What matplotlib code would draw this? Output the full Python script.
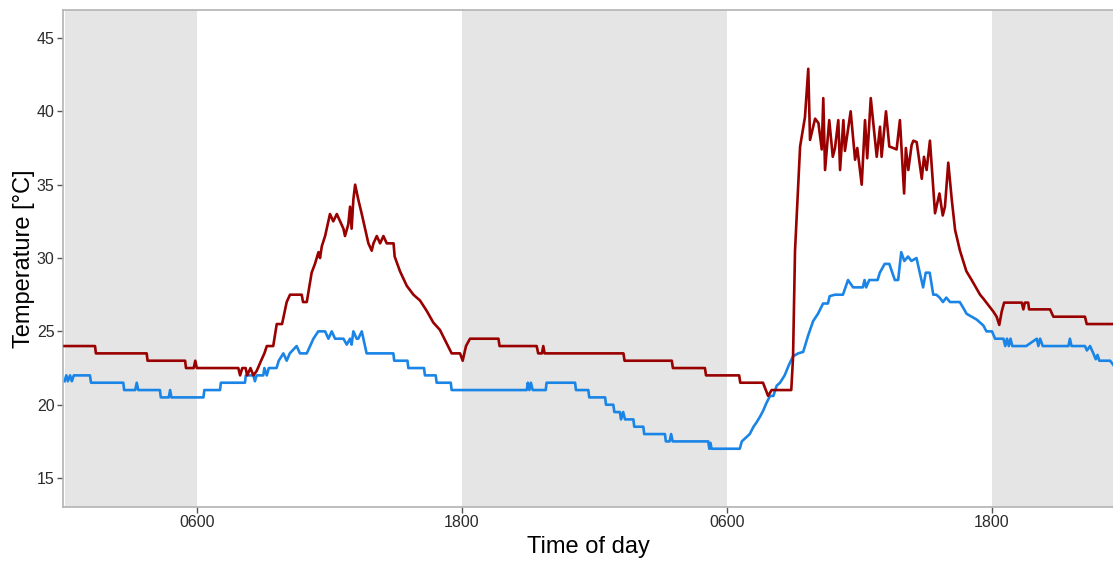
import matplotlib.pyplot as plt

plt.rcParams['font.family'] = ['Liberation Sans', 'DejaVu Sans']

# hours since midnight of day 1, temperature in deg C
red_t = [0.0, 1.38, 1.42, 3.72, 3.76, 5.46, 5.50, 5.85, 5.92, 5.99, 7.87, 7.95, 8.05, 8.2, 8.27,
         8.42, 8.55, 8.70, 8.9, 9.05, 9.16, 9.45, 9.61, 9.85, 10.06, 10.21, 10.74, 10.8, 10.97,
         11.19, 11.34, 11.5, 11.57, 11.65, 11.8, 12.02, 12.17, 12.33, 12.48, 12.63, 12.7, 12.85,
         12.93, 13.0, 13.08, 13.16, 13.3, 13.46, 13.61, 13.76, 13.91, 13.99, 14.14, 14.29, 14.44,
         14.59, 14.9, 14.95, 15.19, 15.5, 15.8, 16.1, 16.4, 16.7, 17.0, 17.3, 17.53, 17.91, 18.03,
         18.18, 18.36, 19.65, 19.7, 21.38, 21.45, 21.62, 21.68, 21.74, 25.31, 25.36, 27.5, 27.55,
         29.0, 29.05, 30.55, 30.6, 31.63, 31.86, 32.02, 32.91, 32.99, 33.08, 33.31, 33.53, 33.68,
         33.76, 33.99, 34.14, 34.29, 34.36, 34.44, 34.63, 34.79, 34.89, 35.04, 35.12, 35.27, 35.34,
         35.6, 35.8, 35.9, 36.1, 36.25, 36.35, 36.51, 36.78, 36.93, 37.0, 37.2, 37.35, 37.53, 37.68,
         37.83, 38.02, 38.1, 38.21, 38.36, 38.44, 38.59, 38.82, 38.92, 39.04, 39.19, 39.42, 39.62,
         39.77, 39.87, 40.02, 40.18, 40.33, 40.55, 40.84, 41.08, 41.46, 41.6, 41.83, 42.06, 42.21,
         42.33, 42.44, 42.55, 43.35, 43.42, 43.49, 43.64, 43.68, 44.63, 44.78, 46.21, 46.29, 47.6]
red_v = [24.0, 24.0, 23.5, 23.5, 23.0, 23.0, 22.5, 22.5, 23.0, 22.5, 22.5, 22.0, 22.5, 22.5, 22.0,
         22.5, 22.0, 22.3, 23.0, 23.5, 24.0, 24.0, 25.5, 25.5, 27.0, 27.5, 27.5, 27.0, 27.0,
         29.0, 29.6, 30.4, 30.0, 30.8, 31.5, 33.0, 32.5, 33.0, 32.5, 32.0, 31.5, 32.3,
         33.5, 32.0, 34.0, 35.0, 34.0, 33.0, 32.0, 31.0, 30.5, 31.0, 31.5, 31.0, 31.5,
         31.0, 31.0, 30.1, 29.1, 28.1, 27.5, 27.1, 26.4, 25.6, 25.1, 24.2, 23.5, 23.5, 23.0,
         24.0, 24.5, 24.5, 24.0, 24.0, 23.5, 23.5, 24.0, 23.5, 23.5, 23.0, 23.0, 22.5,
         22.5, 22.0, 22.0, 21.5, 21.5, 20.6, 21.0, 21.0, 23.2, 30.5, 37.6, 39.6, 42.9,
         38.05, 39.5, 39.2, 37.4, 40.9, 36.0, 39.4, 36.9, 37.5, 39.4, 36.0, 39.4, 37.3,
         40.0, 36.7, 37.5, 35.0, 39.4, 36.8, 40.9, 36.9, 38.95, 36.9, 40.0, 37.6, 37.5, 37.4,
         39.4, 34.4, 37.5, 36.0, 37.7, 38.0, 37.9, 35.4, 36.9, 36.0, 38.0, 33.05, 34.4,
         32.9, 33.5, 36.5, 33.96, 31.9, 30.5, 29.1, 28.5, 27.5, 27.25, 26.8, 26.35, 26.0,
         25.44, 26.35, 26.96, 26.96, 26.5, 26.96, 26.96, 26.5, 26.5, 26.0, 26.0, 25.5, 25.5]

blue_t = [0.0, 0.08, 0.15, 0.25, 0.33, 0.42, 1.15, 1.2, 2.66, 2.7, 3.2, 3.27, 3.34, 4.32, 4.36,
          4.72, 4.78, 4.84, 6.29, 6.33, 7.04, 7.08, 8.17, 8.21, 8.55, 8.62, 8.7, 9.0, 9.05, 9.16,
          9.25, 9.6, 9.7, 9.91, 10.06, 10.2, 10.51, 10.66, 10.97, 11.12, 11.27, 11.49, 11.8, 11.95,
          12.1, 12.25, 12.63, 12.78, 12.93, 13.0, 13.08, 13.23, 13.3, 13.46, 13.68, 14.89, 14.93,
          15.53, 15.57, 16.28, 16.32, 16.81, 16.85, 17.49, 17.53, 20.93, 20.98, 21.05, 21.12, 21.2,
          21.79, 21.83, 23.12, 23.16, 23.72, 23.76, 24.48, 24.52, 24.85, 24.9, 25.15, 25.2, 25.3,
          25.38, 25.76, 25.8, 26.21, 26.25, 27.19, 27.23, 27.4, 27.47, 27.54, 29.15, 29.2, 29.25,
          29.3, 30.58, 30.67, 31.03, 31.2, 31.34, 31.5, 31.64, 31.78, 31.95, 32.1, 32.25, 32.4,
          32.61, 32.8, 32.99, 33.22, 33.45, 33.67, 33.9, 34.12, 34.35, 34.57, 34.65, 34.88, 35.25,
          35.48, 35.71, 36.15, 36.23, 36.3, 36.44, 36.82, 36.92, 37.14, 37.35, 37.6, 37.75, 37.89,
          38.03, 38.2, 38.35, 38.58, 38.88, 39.0, 39.18, 39.34, 39.48, 39.63, 39.78, 39.93, 40.1,
          40.54, 40.7, 40.85, 41.31, 41.61, 41.75, 42.0, 42.14, 42.52, 42.6, 42.68, 42.76, 42.84,
          42.92, 43.0, 43.55, 44.03, 44.1, 44.18, 44.3, 45.46, 45.53, 45.6, 46.21, 46.3, 46.44,
          46.59, 46.7, 46.78, 46.86, 47.35, 47.6]
blue_v = [21.6, 22.0, 21.6, 22.0, 21.6, 22.0, 22.0, 21.5, 21.5, 21.0, 21.0, 21.5, 21.0, 21.0, 20.5,
          20.5, 21.0, 20.5, 20.5, 21.0, 21.0, 21.5, 21.5, 22.0, 22.0, 21.6, 22.0, 22.0, 22.5, 22.0,
          22.5, 22.5, 23.0, 23.5, 23.0, 23.5, 24.0, 23.5, 23.5, 24.0, 24.5, 25.0, 25.0, 24.5,
          25.0, 24.5, 24.5, 24.1, 24.5, 24.1, 25.0, 24.5, 24.5, 25.0, 23.5, 23.5, 23.0,
          23.0, 22.5, 22.5, 22.0, 22.0, 21.5, 21.5, 21.0, 21.0, 21.5, 21.0, 21.5, 21.0,
          21.0, 21.5, 21.5, 21.0, 21.0, 20.5, 20.5, 20.0, 20.0, 19.5, 19.5, 19.0, 19.5,
          19.0, 19.0, 18.5, 18.5, 18.0, 18.0, 17.5, 17.5, 18.0, 17.5, 17.5, 17.0, 17.4,
          17.0, 17.0, 17.5, 18.0, 18.5, 18.8, 19.2, 19.6, 20.1, 20.6, 20.6, 21.3, 21.5,
          22.0, 22.7, 23.3, 23.5, 23.6, 24.7, 25.7, 26.2, 26.9, 26.9, 27.4, 27.5, 27.5,
          28.5, 28.0, 28.0, 28.5, 28.0, 28.5, 28.5, 29.0, 29.6, 29.6, 28.5, 28.5, 30.4,
          29.8, 30.1, 29.8, 30.0, 28.0, 29.0, 29.0, 27.5, 27.5, 27.3, 27.0, 27.3, 27.0,
          27.0, 26.6, 26.2, 25.8, 25.4, 25.0, 25.0, 24.5, 24.5, 24.0, 24.5, 24.0, 24.5,
          24.0, 24.0, 24.0, 24.5, 24.0, 24.5, 24.0, 24.0, 24.5, 24.0, 24.0, 23.7, 24.0,
          23.5, 23.1, 23.4, 23.0, 23.0, 22.5]

nights = [(0, 6), (18, 30), (42, 48)]
tick_pos = [6, 18, 30, 42]
tick_lab = ['0600', '1800', '0600', '1800']

fig = plt.figure(figsize=(11.13, 5.61), dpi=100)
ax = fig.add_axes([0.0566, 0.0963, 0.9434, 0.8857])

for a, b in nights:
    ax.axvspan(a, b, color='#e5e5e5', lw=0, zorder=0)

ax.plot(red_t, red_v, color='#990000', lw=1.9, zorder=3)
ax.plot(blue_t, blue_v, color='#1a85e6', lw=1.9, zorder=2)

ax.set_xlim(-0.07, 47.48)
ax.set_ylim(13.03, 46.9)
ax.set_xticks(tick_pos)
ax.set_xticklabels(tick_lab)
ax.set_yticks([15, 20, 25, 30, 35, 40, 45])

for s in ['left', 'bottom', 'top']:
    ax.spines[s].set_color('#b3b3b3')
    ax.spines[s].set_linewidth(1.2)
ax.spines['right'].set_visible(False)
ax.tick_params(length=4, width=1, color='#555555', labelsize=11.5, labelcolor='#2b2b2b', pad=2)

ax.set_xlabel('Time of day', fontsize=17, labelpad=4)
ax.set_ylabel('Temperature [°C]', fontsize=17, labelpad=1)

fig.savefig('out.png', dpi=100)
